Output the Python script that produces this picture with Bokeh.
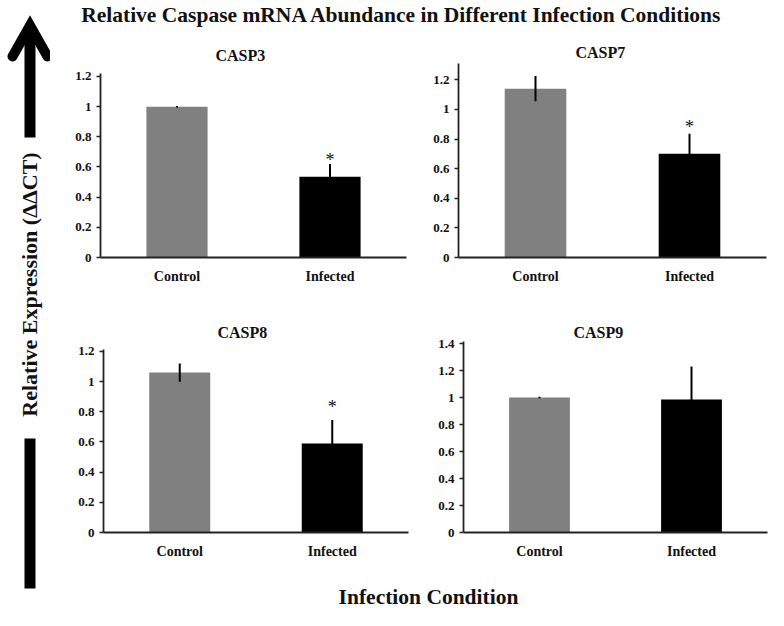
import math
from bokeh.plotting import figure
from bokeh.layouts import row, column
from bokeh.models import Range1d, FixedTicker, CustomJSTickFormatter, ColumnDataSource
from bokeh.core.properties import value
from bokeh.embed import file_html
from bokeh.resources import INLINE

# ---------------- data ----------------
MAIN_TITLE = "Relative Caspase mRNA Abundance in Different Infection Conditions"
Y_LABEL = "Relative Expression (ΔΔCT)"
X_LABEL = "Infection Condition"
conditions = ["Control", "Infected"]
genes = ["CASP3", "CASP7", "CASP8", "CASP9"]

casp3_mean = [1.00, 0.535]
casp3_err = [0.005, 0.085]
casp7_mean = [1.14, 0.70]
casp7_err = [0.085, 0.135]
casp8_mean = [1.06, 0.59]
casp8_err = [0.06, 0.155]
casp9_mean = [1.00, 0.985]
casp9_err = [0.005, 0.245]

# significance marks (asterisk): which bar, and the label height
casp3_sig = [False, True]
casp7_sig = [False, True]
casp8_sig = [False, True]
casp9_sig = [False, False]
casp3_star_y = 0.645
casp7_star_y = 0.88
casp8_star_y = 0.835

ticks_12 = [0, 0.2, 0.4, 0.6, 0.8, 1, 1.2]
ticks_14 = [0, 0.2, 0.4, 0.6, 0.8, 1, 1.2, 1.4]
axis_top = {"CASP3": 1.22, "CASP7": 1.31, "CASP8": 1.213, "CASP9": 1.415}

# ---------------- style / layout ----------------
FONT = "Liberation Serif"
BAR_COLORS = ["#808080", "#000000"]
view_top = {"CASP3": 1.286, "CASP7": 1.31, "CASP8": 1.266, "CASP9": 1.415}


def panel(gene, mean, err, sig, star_y, ticks, width, height, bl, br, bt, bb,
          tstand, toff):
    p = figure(width=width, height=height,
               x_range=Range1d(-0.5, 1.5), y_range=Range1d(0, view_top[gene]),
               output_backend="svg", toolbar_location=None,
               min_border_left=bl, min_border_right=br,
               min_border_top=bt, min_border_bottom=bb)
    p.outline_line_color = None
    p.xgrid.visible = False
    p.ygrid.visible = False
    p.background_fill_color = "white"
    p.border_fill_color = "white"

    p.title.text = gene
    p.title.text_font = FONT
    p.title.text_font_style = "bold"
    p.title.text_font_size = "16px"
    p.title.text_color = "#111111"
    p.title.align = "left"
    p.title.standoff = tstand
    p.title.offset = toff

    x = list(range(len(conditions)))
    src = ColumnDataSource(dict(
        x=x, top=mean, color=BAR_COLORS,
        lo=[m - e for m, e in zip(mean, err)],
        hi=[m + e for m, e in zip(mean, err)],
    ))
    p.vbar(x="x", top="top", bottom=0, width=0.4, fill_color="color",
           line_color=None, source=src)
    p.segment(x0="x", y0="lo", x1="x", y1="hi", line_color="black",
              line_width=2, source=src)

    sx = [i for i, s in enumerate(sig) if s]
    if sx:
        p.text(x=sx, y=[star_y] * len(sx), text=["*"] * len(sx),
               text_font=value(FONT), text_font_size="18px",
               text_align="center", text_baseline="middle", text_color="#111111")

    ya = p.yaxis[0]
    ya.bounds = (0, axis_top[gene])
    ya.ticker = FixedTicker(ticks=ticks)
    ya.formatter = CustomJSTickFormatter(code="return String(Math.round(tick*10)/10);")
    ya.minor_tick_line_color = None
    ya.major_tick_out = 4
    ya.major_tick_in = 0
    ya.major_tick_line_width = 1.5
    ya.major_tick_line_color = "#222222"
    ya.axis_line_width = 1.8
    ya.axis_line_color = "#222222"
    ya.major_label_text_font = FONT
    ya.major_label_text_font_style = "bold"
    ya.major_label_text_font_size = "13px"
    ya.major_label_text_color = "#111111"
    ya.major_label_standoff = 5

    xa = p.xaxis[0]
    xa.ticker = FixedTicker(ticks=x)
    xa.formatter = CustomJSTickFormatter(args=dict(labels=conditions),
                                         code="return labels[Math.round(tick)] || '';")
    xa.minor_tick_line_color = None
    xa.major_tick_line_color = None
    xa.major_tick_out = 0
    xa.major_tick_in = 0
    xa.axis_line_width = 1.8
    xa.axis_line_color = "#222222"
    xa.major_label_text_font = FONT
    xa.major_label_text_font_style = "bold"
    xa.major_label_text_font_size = "14px"
    xa.major_label_text_color = "#111111"
    xa.major_label_standoff = 11
    return p


def deco(width, height, x0, x1, y0, y1):
    p = figure(width=width, height=height, x_range=Range1d(x0, x1),
               y_range=Range1d(y1, y0), x_axis_type=None, y_axis_type=None,
               output_backend="svg", toolbar_location=None, min_border=0)
    p.outline_line_color = None
    p.xgrid.visible = False
    p.ygrid.visible = False
    return p

# left decoration: arrow + y label (page pixel coordinates)
left = deco(50, 610, 0, 50, 0, 610)
left.segment(x0=[29.5], y0=[137], x1=[29.5], y1=[30], line_width=11,
             line_color="black", line_cap="butt")
left.multi_line(xs=[[12, 29.5, 47]], ys=[[56, 25, 56]], line_width=10,
                line_color="black", line_join="miter", line_cap="round")
left.quad(left=[24], right=[35], top=[438], bottom=[588], fill_color="black",
          line_color=None)
left.text(x=[29], y=[284], text=[Y_LABEL], angle=math.pi / 2,
          text_font=value(FONT), text_font_style="bold", text_font_size="22px",
          text_align="center", text_baseline="middle", text_color="#111111")

top = deco(718, 27, 50, 768, 0, 27)
top.text(x=[401.5], y=[14], text=[MAIN_TITLE], text_font=value(FONT),
         text_font_style="bold", text_font_size="21.5px", text_align="center",
         text_baseline="middle", text_color="#111111")

bottom = deco(718, 43, 50, 768, 567, 610)
bottom.text(x=[428], y=[596], text=[X_LABEL], text_font=value(FONT),
            text_font_style="bold", text_font_size="21.5px", text_align="center",
            text_baseline="middle", text_color="#111111")

p1 = panel("CASP3", casp3_mean, casp3_err, casp3_sig, casp3_star_y, ticks_12,
           360, 260, 50, 4, 36, 30, 0, 115)
p2 = panel("CASP7", casp7_mean, casp7_err, casp7_sig, casp7_star_y, ticks_12,
           358, 260, 48, 2, 36, 30, 6, 117)
p3 = panel("CASP8", casp8_mean, casp8_err, casp8_sig, casp8_star_y, ticks_12,
           360, 280, 53, 2, 54, 35, 2, 114)
p4 = panel("CASP9", casp9_mean, casp9_err, casp9_sig, 0, ticks_14,
           358, 280, 53, 1, 54, 35, 2, 110)

layout = row(left, column(top, row(p1, p2), row(p3, p4), bottom))

open("out.html", "w").write(file_html(layout, INLINE))
